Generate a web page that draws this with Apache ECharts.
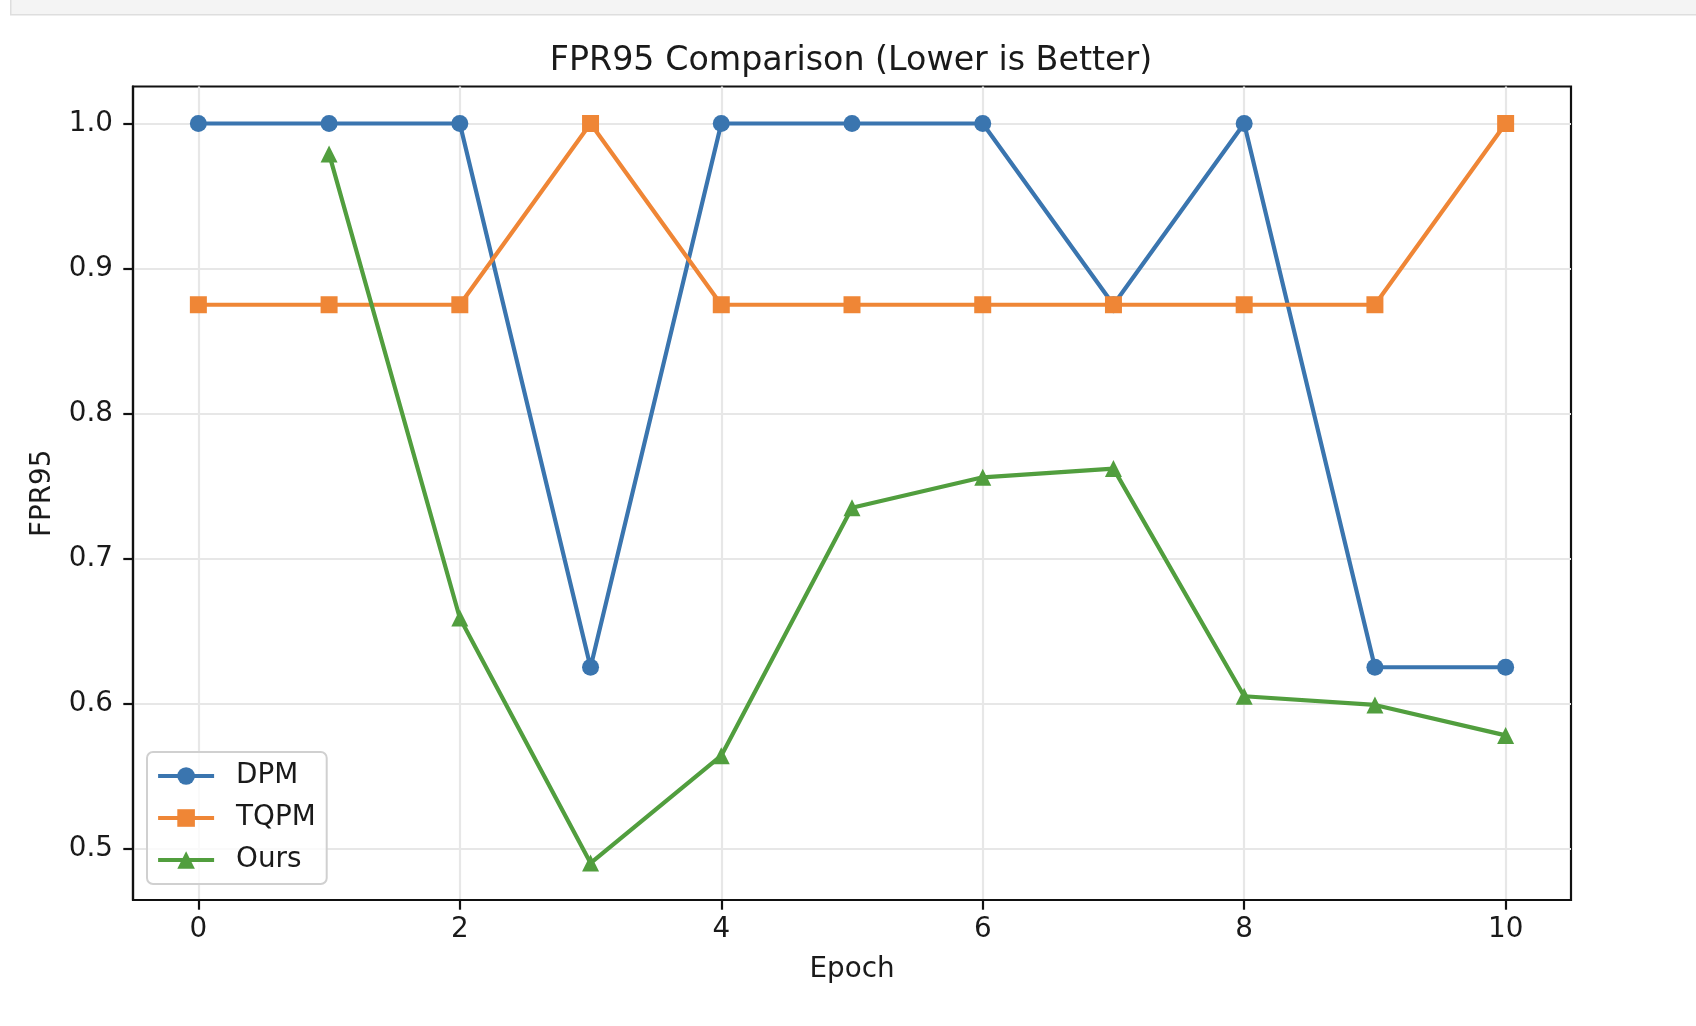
<!DOCTYPE html>
<html>
<head>
<meta charset="utf-8">
<script src="https://cdn.jsdelivr.net/npm/echarts@6/dist/echarts.min.js"></script>
<style>
html,body{margin:0;padding:0;background:#fff;}
#chart{width:1696px;height:1026px;}
</style>
</head>
<body>
<div id="chart"></div>
<script>
// ---- data ----
const epochs = [0, 1, 2, 3, 4, 5, 6, 7, 8, 9, 10];
const dpm  = [1.0, 1.0, 1.0, 0.625, 1.0, 1.0, 1.0, 0.875, 1.0, 0.625, 0.625];
const tqpm = [0.875, 0.875, 0.875, 1.0, 0.875, 0.875, 0.875, 0.875, 0.875, 0.875, 1.0];
const ours = [null, 0.979, 0.659, 0.490, 0.564, 0.735, 0.756, 0.762, 0.605, 0.599, 0.578];
const xTicks = [0, 2, 4, 6, 8, 10];
const yTicks = [0.5, 0.6, 0.7, 0.8, 0.9, 1.0];
const seriesNames = ['DPM', 'TQPM', 'Ours'];
const colors = ['#3a75af', '#ef8636', '#519e3e'];

function pairs(vals) { return epochs.map((e, i) => [e, vals[i]]); }

const FONT = 'DejaVu Sans';
const tickFont = 27.8;
const chart = echarts.init(document.getElementById('chart'), null, {renderer: 'canvas'});

const allVals = dpm.concat(tqpm, ours).filter(v => v !== null);
const vmin = Math.min(...allVals), vmax = Math.max(...allVals);
const pad = (vmax - vmin) * 0.05;

function mkSeries(name, vals, symbol, color) {
  return {
    name: name,
    type: 'line',
    data: pairs(vals),
    symbol: symbol,
    symbolSize: 17,
    showSymbol: true,
    showAllSymbol: true,
    connectNulls: false,
    lineStyle: {width: 4.2, color: color},
    itemStyle: {color: color},
    emphasis: {disabled: true}
  };
}

chart.setOption({
  animation: false,
  backgroundColor: '#ffffff',
  color: colors,
  graphic: [{
    type: 'rect',
    left: 10, top: -2,
    shape: {width: 1700, height: 16},
    style: {fill: '#f4f4f4', stroke: '#dedede', lineWidth: 1.5},
    z: 0
  }],
  title: {
    text: 'FPR95 Comparison (Lower is Better)',
    left: 846, textAlign: 'center',
    top: 40,
    textStyle: {fontFamily: FONT, fontSize: 33.3, fontWeight: 'normal', color: '#1a1a1a'}
  },
  grid: {
    left: 133, right: 125, top: 86.5, bottom: 126,
    show: true, borderColor: '#111', borderWidth: 2.2, backgroundColor: 'transparent'
  },
  legend: {
    orient: 'vertical',
    left: 147, top: 752,
    data: seriesNames,
    itemWidth: 56, itemHeight: 22,
    itemGap: 12,
    padding: [9, 11, 9, 9],
    backgroundColor: 'rgba(255,255,255,0.8)',
    borderColor: '#d0d0d0', borderWidth: 2, borderRadius: 6,
    lineStyle: {width: 4.2},
    textStyle: {fontFamily: FONT, fontSize: tickFont, color: '#1a1a1a', lineHeight: 30, padding: [0, 0, 0, 17]},
    selectedMode: false
  },
  xAxis: {
    type: 'value',
    min: -0.5, max: 10.5,
    name: 'Epoch', nameLocation: 'middle', nameGap: 56,
    nameTextStyle: {fontFamily: FONT, fontSize: tickFont, color: '#1a1a1a'},
    axisLine: {show: true, onZero: false, lineStyle: {color: '#111', width: 2.2}},
    axisTick: {show: true, customValues: xTicks, length: 9.7, inside: false, lineStyle: {color: '#111', width: 2.2}},
    axisLabel: {customValues: xTicks, margin: 16, fontFamily: FONT, fontSize: tickFont, color: '#1a1a1a',
      formatter: v => String(v)},
    splitLine: {show: true, lineStyle: {color: '#e7e7e7', width: 2.2}}
  },
  yAxis: {
    type: 'value',
    min: vmin - pad, max: vmax + pad,
    name: 'FPR95', nameLocation: 'middle', nameGap: 76, nameRotate: 90,
    nameTextStyle: {fontFamily: FONT, fontSize: tickFont, color: '#1a1a1a'},
    axisLine: {show: true, onZero: false, lineStyle: {color: '#111', width: 2.2}},
    axisTick: {show: true, customValues: yTicks, length: 9.7, inside: false, lineStyle: {color: '#111', width: 2.2}},
    axisLabel: {customValues: yTicks, margin: 20, fontFamily: FONT, fontSize: tickFont, color: '#1a1a1a',
      formatter: v => Number(v).toFixed(1)},
    splitLine: {show: true, lineStyle: {color: '#e7e7e7', width: 2.2}}
  },
  series: [
    mkSeries(seriesNames[0], dpm, 'circle', colors[0]),
    mkSeries(seriesNames[1], tqpm, 'rect', colors[1]),
    mkSeries(seriesNames[2], ours, 'triangle', colors[2])
  ]
});
</script>
</body>
</html>
